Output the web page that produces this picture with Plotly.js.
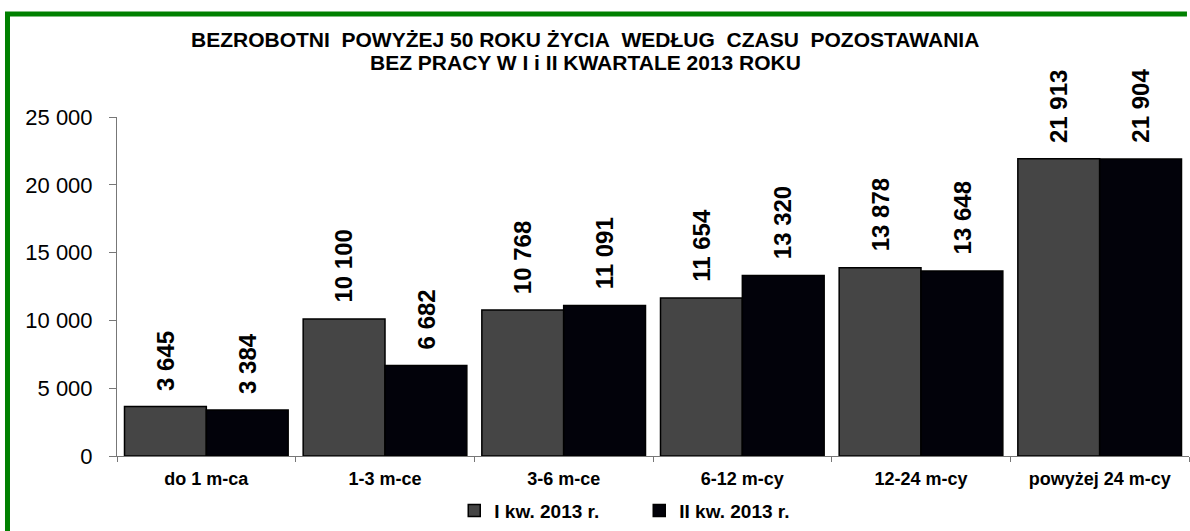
<!DOCTYPE html>
<html>
<head>
<meta charset="utf-8">
<script src="https://cdn.plot.ly/plotly-3.0.1.min.js"></script>
<style>
  html, body { margin: 0; padding: 0; background: #ffffff; overflow: hidden; }
  #chart { width: 1190px; height: 531px; }
</style>
</head>
<body>
<div id="chart"></div>
<script>
const categories = ["do 1 m-ca", "1-3 m-ce", "3-6 m-ce", "6-12 m-cy", "12-24 m-cy", "powyżej 24 m-cy"];
const seriesNames = ["I kw. 2013 r.", "II kw. 2013 r."];
const q1Values = [3645, 10100, 10768, 11654, 13878, 21913];
const q2Values = [3384, 6682, 11091, 13320, 13648, 21904];
const yTickValues = [0, 5000, 10000, 15000, 20000, 25000];
const titleLine1 = "BEZROBOTNI\u00a0 POWYŻEJ 50 ROKU ŻYCIA\u00a0 WEDŁUG\u00a0 CZASU\u00a0 POZOSTAWANIA";
const titleLine2 = "BEZ PRACY W I i II KWARTALE 2013 ROKU";

const FONT = "Liberation Sans, Arial, sans-serif";
const fmt = v => String(v).replace(/\B(?=(\d{3})+(?!\d))/g, "\u00a0");

const traces = [
  { type: "bar", name: seriesNames[0], x: categories, y: q1Values,
    marker: { color: "#454545", line: { color: "#000000", width: 1.5 } }, hoverinfo: "skip" },
  { type: "bar", name: seriesNames[1], x: categories, y: q2Values,
    marker: { color: "#02020a", line: { color: "#000000", width: 1.5 } }, hoverinfo: "skip" }
];

const annotations = [];
[q1Values, q2Values].forEach((vals, si) => {
  vals.forEach((v, i) => {
    annotations.push({
      x: categories[i], y: v, xref: "x", yref: "y",
      text: fmt(v), showarrow: false, textangle: -90,
      xanchor: "center", yanchor: "bottom",
      xshift: si === 0 ? -41 : 41, yshift: 14,
      font: { family: FONT, size: 24, weight: "bold", color: "#000000" }
    });
  });
});
annotations.push({ xref: "paper", yref: "paper", x: 0.4366, y: 1.2300, showarrow: false,
  xanchor: "center", yanchor: "middle", text: titleLine1,
  font: { family: FONT, size: 21, weight: "bold", color: "#000000" } });
annotations.push({ xref: "paper", yref: "paper", x: 0.4366, y: 1.1620, showarrow: false,
  xanchor: "center", yanchor: "middle", text: titleLine2,
  font: { family: FONT, size: 21, weight: "bold", color: "#000000" } });

// green frame (left and top edges of the chart border)
const frameShape = {
  type: "path", xref: "paper", yref: "paper", layer: "above",
  path: "M -0.10215 -0.2405 L -0.10215 1.30352 L 0.9981 1.30352",
  line: { color: "#008000", width: 5 }, fillcolor: "rgba(0,0,0,0)"
};

const layout = {
  width: 1190, height: 531,
  margin: { l: 117, r: 1, t: 117, b: 73, pad: 0 },
  paper_bgcolor: "#ffffff", plot_bgcolor: "#ffffff",
  separators: ", ",
  barmode: "group", bargap: 0.084, bargroupgap: 0,
  font: { family: FONT, color: "#000000" },
  xaxis: {
    type: "category", range: [-0.5, 5.5], tickson: "boundaries",
    ticks: "outside", ticklen: 5, tickcolor: "#777777", tickwidth: 1,
    showline: true, linecolor: "#777777", linewidth: 1,
    showgrid: false, zeroline: false, ticklabelstandoff: 6,
    tickfont: { family: FONT, size: 18, weight: "bold", color: "#000000" }
  },
  yaxis: {
    range: [0, 25000], tickvals: yTickValues, tickformat: ",d",
    ticks: "outside", ticklen: 7, tickcolor: "#777777", tickwidth: 1,
    showline: true, linecolor: "#777777", linewidth: 1,
    showgrid: false, zeroline: false, ticklabelstandoff: 12,
    tickfont: { family: FONT, size: 22, color: "#000000" }
  },
  showlegend: true,
  legend: {
    orientation: "h", x: 0.3146, xanchor: "left", y: -0.161, yanchor: "middle",
    font: { family: FONT, size: 19, weight: "bold", color: "#000000" },
    entrywidth: 140, itemwidth: 30, bgcolor: "rgba(0,0,0,0)", traceorder: "normal"
  },
  shapes: [frameShape],
  annotations: annotations
};

Plotly.newPlot("chart", traces, layout, { displayModeBar: false, staticPlot: true });
</script>
</body>
</html>
